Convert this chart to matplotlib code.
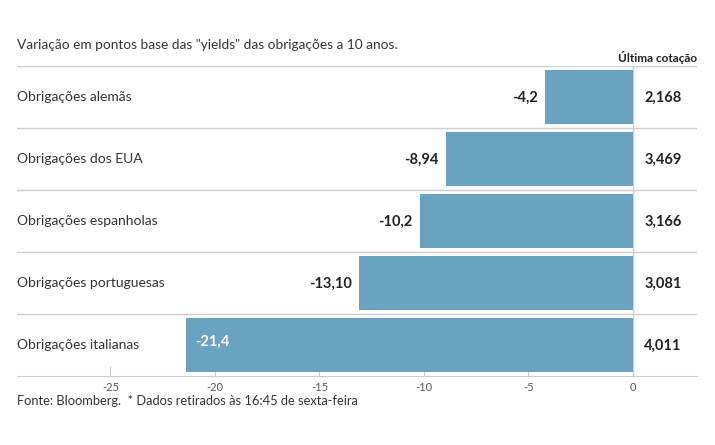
import matplotlib
matplotlib.use('Agg')
import matplotlib.pyplot as plt

plt.rcParams['font.family'] = ['Lato', 'DejaVu Sans']

# dados
paises = ['Obrigações alemãs', 'Obrigações dos EUA', 'Obrigações espanholas',
          'Obrigações portuguesas', 'Obrigações italianas']
variacao = [-4.2, -8.94, -10.2, -13.10, -21.4]
variacao_txt = ['-4,2', '-8,94', '-10,2', '-13,10', '-21,4']
cotacao_txt = ['2,168', '3,469', '3,166', '3,081', '4,011']
ticks = [-25, -20, -15, -10, -5, 0]

fig = plt.figure(figsize=(7.15, 4.45), dpi=100)
ax = fig.add_axes([17 / 715, 1 - 376 / 445, 680 / 715, 310 / 445])

y = list(range(len(paises)))
ax.barh(y, variacao, height=0.86, color='#6aa3bf', zorder=2)
ax.set_xlim(-29.47, 3.07)
ax.set_ylim(len(paises) - 0.5, -0.5)

# linhas de separação
for i in range(len(paises)):
    ax.axhline(i - 0.5, color='#cccccc', lw=1, zorder=1)
ax.axvline(0, color='#cccccc', lw=1, zorder=1)

for i, (v, t, c) in enumerate(zip(variacao, variacao_txt, cotacao_txt)):
    ax.text(-29.47, i, paises[i], ha='left', va='center', fontsize=10, color='#333333')
    if v < -20:
        ax.text(v + 0.45, i - 0.05, t, ha='left', va='center', fontsize=10.5,
                fontweight='bold', color='white', zorder=3)
    else:
        ax.text(v - 0.35, i + 0.02, t, ha='right', va='center', fontsize=10.5,
                fontweight='bold', color='#222222')
    ax.text(1.44, i + 0.02, c, ha='center', va='center', fontsize=10.5,
            fontweight='bold', color='#222222')

ax.set_xticks(ticks)
ax.set_xticklabels([str(t) for t in ticks], fontsize=8, color='#555555')
ax.tick_params(axis='x', direction='in', length=7, color='#cccccc', pad=4)
ax.set_yticks([])
for s in ['top', 'left', 'right']:
    ax.spines[s].set_visible(False)
ax.spines['bottom'].set_color('#cccccc')

fig.text(17 / 715, 1 - 45 / 445, 'Variação em pontos base das "yields" das obrigações a 10 anos.',
         fontsize=9.8, color='#333333', va='center')
fig.text(697 / 715, 1 - 57 / 445, 'Última cotação', fontsize=8.5, fontweight='bold',
         color='#222222', ha='right', va='center')
fig.text(17 / 715, 1 - 401 / 445, 'Fonte: Bloomberg.  * Dados retirados às 16:45 de sexta-feira',
         fontsize=9.3, color='#333333', va='center')

fig.savefig('out.png', dpi=100)
